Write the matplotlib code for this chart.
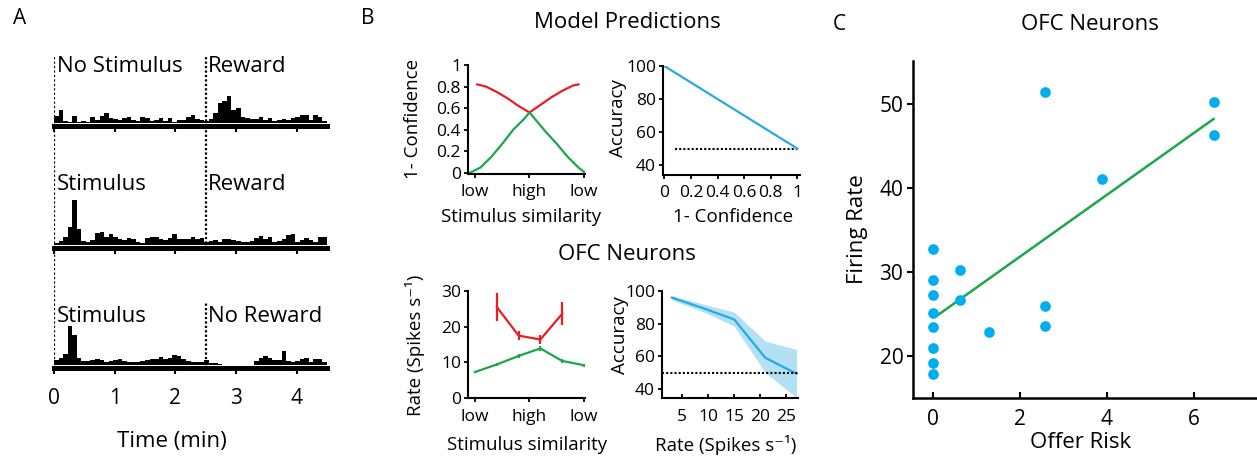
import numpy as np
import matplotlib.pyplot as plt

plt.rcParams['font.family'] = ['Open Sans', 'DejaVu Sans']

W, H = 1257, 457

RED = '#ED1C24'
GREEN = '#1BA64A'
BLUE = '#27A9E1'
DOT = '#00AEEF'

# A: spike histograms, 0.075 min bins over 0-4.5 min
bin_w = 0.075
t_end = 4.5
hist_nostim_rew = [7, 13, 2, 1, 7, 1, 2, 1, 6, 3, 7, 10, 5, 4, 3, 5, 6, 3, 2, 6,
                   5, 2, 3, 5, 2, 5, 1, 3, 3, 6, 8, 4, 3, 2, 4, 10, 20, 22, 27, 13,
                   15, 6, 5, 4, 4, 6, 3, 5, 2, 3, 4, 3, 5, 6, 8, 8, 3, 8, 6, 2]
hist_stim_rew = [2, 4, 8, 18, 45, 16, 4, 3, 5, 12, 13, 8, 11, 8, 6, 5, 7, 6, 3, 2,
                 7, 8, 8, 6, 5, 7, 11, 6, 6, 6, 8, 6, 7, 3, 4, 5, 3, 6, 6, 5,
                 4, 3, 3, 4, 7, 9, 6, 8, 3, 4, 6, 10, 11, 3, 5, 7, 5, 3, 8, 8]
hist_stim_norew = [5, 7, 11, 39, 30, 7, 4, 4, 5, 6, 5, 3, 4, 5, 6, 4, 3, 3, 3, 4,
                   5, 6, 6, 8, 6, 7, 10, 9, 6, 4, 3, 3, 3, 5, 2, 2, 1, 0, 0, 0,
                   0, 0, 0, 0, 4, 7, 9, 7, 5, 5, 14, 4, 3, 4, 6, 7, 3, 6, 6, 3]
row_labels = [('No Stimulus', 'Reward'), ('Stimulus', 'Reward'), ('Stimulus', 'No Reward')]
stim_time = 0.0
outcome_time = 2.5
time_ticks = [0, 1, 2, 3, 4]

# B top: model predictions
sim_green = [-0.05, 0.05, 0.15, 0.25, 0.35, 0.45, 0.5, 0.55, 0.65, 0.75, 0.85, 0.95, 1.0]
conf_green = [0.0, 0.05, 0.15, 0.27, 0.40, 0.50, 0.56, 0.50, 0.38, 0.27, 0.15, 0.05, 0.01]
sim_red = [0.02, 0.1, 0.2, 0.3, 0.4, 0.5, 0.6, 0.7, 0.8, 0.9, 0.95]
conf_red = [0.82, 0.80, 0.75, 0.69, 0.62, 0.56, 0.63, 0.70, 0.76, 0.81, 0.82]
conf_x = [0.0, 1.0]
acc_model = [100, 50]
chance = 50
sim_ticks = [0, 0.5, 1.0]
sim_ticklabels = ['low', 'high', 'low']

# B bottom: OFC neurons
sim_pts_green = [0, 0.2, 0.4, 0.6, 0.8, 1.0]
rate_green = [7.3, 9.4, 11.8, 13.9, 10.4, 9.2]
err_green = [0.3, 0.5, 0.5, 0.6, 0.5, 0.4]
sim_pts_red = [0.2, 0.4, 0.6, 0.8]
rate_red = [25.5, 17.5, 16.4, 23.6]
err_red = [4.0, 1.3, 1.2, 3.2]
rate_bins = [3, 9, 15, 21, 27]
acc_ofc = [95.9, 89.5, 82.6, 59.1, 49.4]
acc_hi = [97.3, 92.0, 87.1, 69.3, 64.2]
acc_lo = [94.6, 87.3, 78.5, 50.0, 34.8]

# C: firing rate vs offer risk
risk = [0, 0, 0, 0, 0, 0, 0, 0, 0.63, 0.63, 1.29, 2.59, 2.59, 2.59, 3.88, 6.46, 6.46]
fr = [32.7, 29.0, 27.2, 25.1, 23.4, 20.9, 19.2, 17.9, 30.2, 26.7, 22.8, 51.4, 26.0, 23.6,
      41.0, 50.2, 46.3]
fit_x = [0.12, 6.46]
fit_y = [24.9, 48.2]

fig = plt.figure(figsize=(W / 100, H / 100), dpi=100)


def add_ax(l, t, r, b):
    return fig.add_axes([l / W, 1 - b / H, (r - l) / W, (b - t) / H])


def ftext(x, y, s, **kw):
    kw.setdefault('ha', 'center')
    kw.setdefault('va', 'center')
    fig.text(x / W, 1 - y / H, s, **kw)


def style(ax, lw=1.5):
    for side in ('top', 'right'):
        ax.spines[side].set_visible(False)
    for side in ('left', 'bottom'):
        ax.spines[side].set_linewidth(lw)
    ax.patch.set_alpha(0)


# ---- A
edges = np.arange(len(hist_nostim_rew) + 1) * bin_w
rows = [(55, 125.5, hist_nostim_rew), (125.5, 247.5, hist_stim_rew), (247.5, 367.5, hist_stim_norew)]
for i, (top, bot, vals) in enumerate(rows):
    ax = add_ax(54, top, 327, bot)
    h = bot - top
    ax.stairs(vals, edges, fill=True, color='black', lw=0)
    ax.set_xlim(0, t_end)
    ax.set_ylim(-2.5, h - 2.5)
    for side in ('top', 'right', 'left'):
        ax.spines[side].set_visible(False)
    ax.spines['bottom'].set_linewidth(3.6)
    ax.set_yticks([])
    ax.set_xticks(time_ticks)
    ax.tick_params(axis='x', direction='out', length=4, width=1.5, pad=11, labelsize=15)
    if i < 2:
        ax.set_xticklabels([])
    ax.axvline(stim_time, color='black', lw=1.6, ls=(0, (1, 1)))
    ax.axvline(outcome_time, ymax=1 if i < 2 else 0.54, color='black', lw=1.6, ls=(0, (1, 1)))
    ax.patch.set_alpha(0)

for (l1, l2), yb in zip(row_labels, [72, 190, 322]):
    ftext(57, yb, l1, ha='left', va='baseline', fontsize=16)
    ftext(208, yb, l2, ha='left', va='baseline', fontsize=16)
ftext(172, 442, 'Time (min)', fontsize=16)

# ---- B top left
ax = add_ax(468, 65, 585, 174)
style(ax)
ax.plot(sim_red, conf_red, color=RED, lw=1.6)
ax.plot(sim_green, conf_green, color=GREEN, lw=1.6)
ax.set_xlim(-0.065, 1.01)
ax.set_ylim(-0.01, 1)
ax.set_yticks([0, 0.2, 0.4, 0.6, 0.8, 1])
ax.set_yticklabels(['0', '0.2', '0.4', '0.6', '0.8', '1'])
ax.set_xticks(sim_ticks)
ax.set_xticklabels(sim_ticklabels)
ax.tick_params(direction='out', length=3, width=1.3, pad=2, labelsize=12.5)
ax.tick_params(axis='x', pad=4)

# ---- B top right
ax = add_ax(663, 66, 800, 175)
style(ax)
ax.plot([0.08, 1.0], [chance, chance], color='black', lw=1.5, ls=(0, (1, 1)))
ax.plot(conf_x, acc_model, color=BLUE, lw=1.6)
ax.set_xlim(-0.01, 1.02)
ax.set_ylim(34, 100)
ax.set_yticks([40, 60, 80, 100])
ax.set_xticks([0, 0.2, 0.4, 0.6, 0.8, 1])
ax.set_xticklabels(['0', '0.2', '0.4', '0.6', '0.8', '1'])
ax.tick_params(direction='out', length=3, width=1.3, pad=2, labelsize=12.5)
ax.tick_params(axis='x', pad=4)

# ---- B bottom left
ax = add_ax(468, 291, 585, 398)
style(ax)
ax.errorbar(sim_pts_red, rate_red, yerr=err_red, color=RED, lw=1.6, elinewidth=1.6, capsize=0)
ax.errorbar(sim_pts_green, rate_green, yerr=err_green, color=GREEN, lw=1.6, elinewidth=1.6, capsize=0)
ax.set_xlim(-0.065, 1.01)
ax.set_ylim(0, 30)
ax.set_yticks([0, 10, 20, 30])
ax.set_xticks(sim_ticks)
ax.set_xticklabels(sim_ticklabels)
ax.tick_params(direction='out', length=3, width=1.3, pad=2, labelsize=12.5)
ax.tick_params(axis='x', pad=5)

# ---- B bottom right
ax = add_ax(662, 291, 798, 398)
style(ax)
ax.fill_between(rate_bins, acc_lo, acc_hi, color=BLUE, alpha=0.35, lw=0)
ax.plot(rate_bins, acc_ofc, color=BLUE, lw=1.6)
ax.axhline(chance, color='black', lw=1.5, ls=(0, (1, 1)))
ax.set_xlim(1.1, 27.3)
ax.set_ylim(34.5, 100)
ax.set_yticks([40, 60, 80, 100])
ax.set_xticks([5, 10, 15, 20, 25])
ax.tick_params(direction='out', length=3, width=1.3, pad=2, labelsize=12.5)
ax.tick_params(axis='x', direction='in', pad=8)

ftext(413, 119, '1- Confidence', rotation=90, fontsize=13.5)
ftext(521, 217, 'Stimulus similarity', fontsize=13.5)
ftext(618, 118, 'Accuracy', rotation=90, fontsize=13.5)
ftext(733, 217, '1- Confidence', fontsize=13.5)
ftext(415, 345, 'Rate (Spikes s⁻¹)', rotation=90, fontsize=13.5)
ftext(527, 445, 'Stimulus similarity', fontsize=13.5)
ftext(620, 335, 'Accuracy', rotation=90, fontsize=13.5)
ftext(726, 445, 'Rate (Spikes s⁻¹)', fontsize=13.5)
ftext(627, 22, 'Model Predictions', fontsize=16)
ftext(627, 255, 'OFC Neurons', fontsize=16)

# ---- C
ax = add_ax(913, 61, 1257, 398)
style(ax, lw=1.8)
ax.plot(fit_x, fit_y, color=GREEN, lw=1.8)
ax.plot(risk, fr, 'o', color=DOT, ms=7.7, mec='none')
ax.set_xlim(-0.46, 7.46)
ax.set_ylim(15, 55.1)
ax.set_xticks([0, 2, 4, 6])
ax.set_yticks([20, 30, 40, 50])
ax.tick_params(axis='x', direction='in', length=4, width=1.5, pad=8, labelsize=15)
ax.tick_params(axis='y', direction='out', length=4, width=1.5, pad=3, labelsize=15)
ftext(857, 229, 'Firing Rate', rotation=90, fontsize=16)
ftext(1081, 442, 'Offer Risk', fontsize=16)
ftext(1090, 25, 'OFC Neurons', fontsize=16)

ftext(20, 19, 'A', fontsize=15)
ftext(368, 18, 'B', fontsize=15)
ftext(839, 24, 'C', fontsize=15)

fig.savefig('out.png', dpi=100)
